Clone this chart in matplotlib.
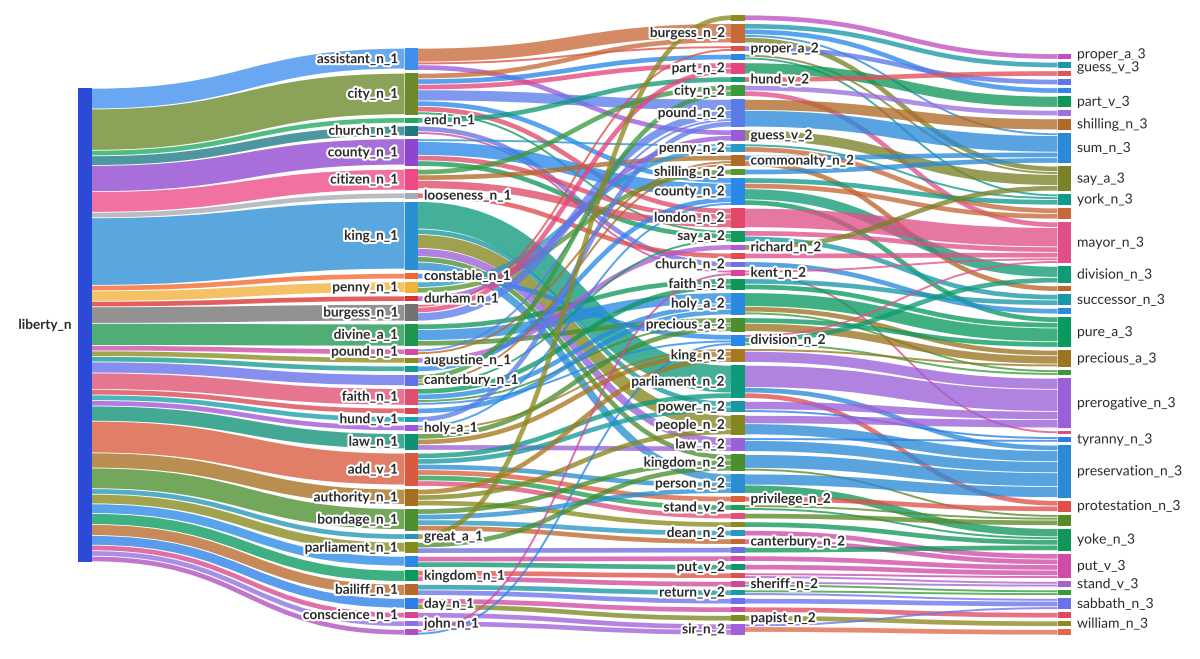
import matplotlib
matplotlib.use("Agg")
import matplotlib.pyplot as plt
from matplotlib.path import Path
from matplotlib.patches import PathPatch, Rectangle
import matplotlib.patheffects as pe

# ---------------- data ----------------
root = "liberty_n"

# level-1 nodes (top to bottom) and the flow liberty_n -> node
l1_nodes = ["assistant_n_1", "city_n_1", "end_n_1", "church_n_1", "county_n_1",
            "citizen_n_1", "looseness_n_1", "king_n_1", "constable_n_1", "penny_n_1",
            "durham_n_1", "burgess_n_1", "divine_a_1", "pound_n_1", "augustine_n_1",
            "u1_16", "canterbury_n_1", "faith_n_1", "u1_19", "hund_v_1", "holy_a_1",
            "law_n_1", "add_v_1", "authority_n_1", "bondage_n_1", "great_a_1",
            "parliament_n_1", "u1_28", "kingdom_n_1", "bailiff_n_1", "day_n_1",
            "conscience_n_1", "john_n_1", "u1_34"]
l1_values = [3.75, 7.5, 1, 1.75, 4.75, 3.75, 1, 12.25, 1, 1.9, 1, 3, 4, 1, 1, 1, 2, 3,
             1, 1, 1, 2.75, 5.75, 2.75, 3.75, 1, 1.75, 1.75, 2, 2, 1.75, 1, 1, 1]

l2_nodes = ["u2_1", "burgess_n_2", "proper_a_2", "u2_4", "part_n_2", "hund_v_2",
            "city_n_2", "pound_n_2", "guess_v_2", "penny_n_2", "commonalty_n_2",
            "shilling_n_2", "county_n_2", "london_n_2", "say_a_2", "richard_n_2",
            "u2_17", "church_n_2", "kent_n_2", "faith_n_2", "holy_a_2", "precious_a_2",
            "division_n_2", "king_n_2", "parliament_n_2", "power_n_2", "people_n_2",
            "law_n_2", "kingdom_n_2", "person_n_2", "privilege_n_2", "stand_v_2",
            "u2_33", "u2_34", "dean_n_2", "canterbury_n_2", "u2_37", "u2_38",
            "put_v_2", "u2_40", "sheriff_n_2", "return_v_2", "u2_43", "u2_44",
            "papist_n_2", "sir_n_2"]

l3_nodes = ["proper_a_3", "guess_v_3", "u3_3", "u3_4", "u3_5", "part_v_3", "u3_7",
            "shilling_n_3", "sum_n_3", "say_a_3", "york_n_3", "u3_12", "mayor_n_3",
            "division_n_3", "u3_15", "successor_n_3", "u3_17", "pure_a_3",
            "precious_a_3", "u3_20", "prerogative_n_3", "u3_22", "tyranny_n_3",
            "preservation_n_3", "protestation_n_3", "u3_26", "yoke_n_3", "put_v_3",
            "stand_v_3", "u3_30", "sabbath_n_3", "u3_32", "william_n_3", "u3_34"]

# level 1 -> level 2 flows
l12_links = [
    ("assistant_n_1", "burgess_n_2", 2.5), ("assistant_n_1", "proper_a_2", 0.5),
    ("assistant_n_1", "guess_v_2", 1),
    ("city_n_1", "burgess_n_2", 1), ("city_n_1", "u2_4", 1), ("city_n_1", "part_n_2", 1),
    ("city_n_1", "pound_n_2", 2), ("city_n_1", "county_n_2", 1),
    ("city_n_1", "london_n_2", 1), ("city_n_1", "say_a_2", 0.5),
    ("end_n_1", "hund_v_2", 1),
    ("church_n_1", "church_n_2", 1), ("church_n_1", "kent_n_2", 0.5),
    ("county_n_1", "penny_n_2", 0.5), ("county_n_1", "county_n_2", 2.5),
    ("county_n_1", "london_n_2", 1), ("county_n_1", "say_a_2", 1),
    ("citizen_n_1", "city_n_2", 1), ("citizen_n_1", "commonalty_n_2", 1),
    ("citizen_n_1", "london_n_2", 1.5),
    ("looseness_n_1", "u2_17", 1),
    ("king_n_1", "parliament_n_2", 5), ("king_n_1", "power_n_2", 1),
    ("king_n_1", "people_n_2", 2.5), ("king_n_1", "law_n_2", 1.5),
    ("king_n_1", "kingdom_n_2", 1), ("king_n_1", "person_n_2", 1.5),
    ("constable_n_1", "division_n_2", 1),
    ("penny_n_1", "penny_n_2", 1), ("penny_n_1", "shilling_n_2", 1),
    ("durham_n_1", "guess_v_2", 1),
    ("burgess_n_1", "proper_a_2", 0.5), ("burgess_n_1", "part_n_2", 1),
    ("burgess_n_1", "pound_n_2", 1.5),
    ("divine_a_1", "holy_a_2", 2), ("divine_a_1", "faith_n_2", 1),
    ("divine_a_1", "precious_a_2", 1),
    ("pound_n_1", "pound_n_2", 0.5), ("pound_n_1", "commonalty_n_2", 0.5),
    ("augustine_n_1", "richard_n_2", 1),
    ("u1_16", "county_n_2", 1),
    ("canterbury_n_1", "city_n_2", 1), ("canterbury_n_1", "commonalty_n_2", 0.5),
    ("canterbury_n_1", "say_a_2", 0.5),
    ("faith_n_1", "faith_n_2", 1), ("faith_n_1", "holy_a_2", 1),
    ("faith_n_1", "precious_a_2", 0.5), ("faith_n_1", "division_n_2", 0.5),
    ("u1_19", "holy_a_2", 1),
    ("hund_v_1", "pound_n_2", 1),
    ("holy_a_1", "county_n_2", 0.5), ("holy_a_1", "king_n_2", 0.5),
    ("law_n_1", "precious_a_2", 1), ("law_n_1", "king_n_2", 1), ("law_n_1", "law_n_2", 1),
    ("add_v_1", "parliament_n_2", 1), ("add_v_1", "power_n_2", 1),
    ("add_v_1", "person_n_2", 1), ("add_v_1", "privilege_n_2", 1),
    ("add_v_1", "stand_v_2", 1), ("add_v_1", "u2_33", 1),
    ("authority_n_1", "king_n_2", 1), ("authority_n_1", "people_n_2", 1),
    ("authority_n_1", "u2_34", 1),
    ("bondage_n_1", "kingdom_n_2", 1), ("bondage_n_1", "person_n_2", 1),
    ("bondage_n_1", "dean_n_2", 1), ("bondage_n_1", "canterbury_n_2", 1),
    ("great_a_1", "u2_1", 1),
    ("parliament_n_1", "kingdom_n_2", 1), ("parliament_n_1", "u2_37", 1),
    ("u1_28", "u2_38", 1), ("u1_28", "put_v_2", 1),
    ("kingdom_n_1", "u2_40", 1), ("kingdom_n_1", "sheriff_n_2", 1),
    ("bailiff_n_1", "return_v_2", 1), ("bailiff_n_1", "u2_43", 1),
    ("day_n_1", "u2_44", 1), ("day_n_1", "papist_n_2", 1),
    ("conscience_n_1", "sir_n_2", 1),
    ("john_n_1", "sir_n_2", 1),
    ("u1_34", "kent_n_2", 0.5), ("u1_34", "division_n_2", 0.5),
]

# level 2 -> level 3 flows
l23_links = [
    ("u2_1", "proper_a_3", 1),
    ("burgess_n_2", "guess_v_3", 1), ("burgess_n_2", "u3_5", 1),
    ("burgess_n_2", "sum_n_3", 0.5), ("burgess_n_2", "say_a_3", 1),
    ("proper_a_2", "u3_4", 1),
    ("u2_4", "say_a_3", 0.5), ("u2_4", "york_n_3", 0.5),
    ("part_n_2", "part_v_3", 2),
    ("hund_v_2", "u3_3", 1),
    ("city_n_2", "u3_7", 1), ("city_n_2", "mayor_n_3", 1),
    ("pound_n_2", "shilling_n_3", 2), ("pound_n_2", "sum_n_3", 3),
    ("guess_v_2", "say_a_3", 2),
    ("penny_n_2", "york_n_3", 0.5), ("penny_n_2", "u3_12", 1),
    ("commonalty_n_2", "sum_n_3", 1), ("commonalty_n_2", "u3_15", 1),
    ("shilling_n_2", "sum_n_3", 1),
    ("county_n_2", "u3_12", 1), ("county_n_2", "york_n_3", 1),
    ("county_n_2", "division_n_3", 2), ("county_n_2", "pure_a_3", 1),
    ("london_n_2", "mayor_n_3", 3.5),
    ("say_a_2", "mayor_n_3", 1), ("say_a_2", "successor_n_3", 1),
    ("richard_n_2", "say_a_3", 1),
    ("u2_17", "mayor_n_3", 1),
    ("church_n_2", "u3_17", 1),
    ("kent_n_2", "mayor_n_3", 0.5), ("kent_n_2", "u3_22", 0.5),
    ("faith_n_2", "successor_n_3", 1), ("faith_n_2", "pure_a_3", 1),
    ("holy_a_2", "pure_a_3", 2.5), ("holy_a_2", "precious_a_3", 1),
    ("holy_a_2", "u3_20", 0.5),
    ("precious_a_2", "pure_a_3", 1), ("precious_a_2", "precious_a_3", 1.5),
    ("division_n_2", "mayor_n_3", 0.5), ("division_n_2", "division_n_3", 1),
    ("division_n_2", "u3_20", 0.5),
    ("king_n_2", "prerogative_n_3", 2), ("king_n_2", "precious_a_3", 0.5),
    ("parliament_n_2", "prerogative_n_3", 4), ("parliament_n_2", "preservation_n_3", 1),
    ("parliament_n_2", "protestation_n_3", 1),
    ("power_n_2", "prerogative_n_3", 1.5), ("power_n_2", "tyranny_n_3", 0.5),
    ("people_n_2", "prerogative_n_3", 1.5), ("people_n_2", "preservation_n_3", 2),
    ("law_n_2", "preservation_n_3", 2), ("law_n_2", "tyranny_n_3", 0.5),
    ("kingdom_n_2", "preservation_n_3", 2.5), ("kingdom_n_2", "u3_26", 0.5),
    ("person_n_2", "preservation_n_3", 2), ("person_n_2", "yoke_n_3", 1.5),
    ("privilege_n_2", "protestation_n_3", 1),
    ("stand_v_2", "u3_26", 0.5), ("stand_v_2", "yoke_n_3", 0.5),
    ("u2_33", "u3_26", 1),
    ("u2_34", "yoke_n_3", 1),
    ("dean_n_2", "put_v_3", 1),
    ("canterbury_n_2", "put_v_3", 1),
    ("u2_37", "yoke_n_3", 1),
    ("u2_38", "put_v_3", 1),
    ("put_v_2", "put_v_3", 1),
    ("u2_40", "put_v_3", 0.5), ("u2_40", "stand_v_3", 0.5),
    ("sheriff_n_2", "stand_v_3", 0.5), ("sheriff_n_2", "u3_30", 0.5),
    ("return_v_2", "u3_30", 0.5), ("return_v_2", "sabbath_n_3", 0.5),
    ("u2_43", "sabbath_n_3", 1),
    ("u2_44", "u3_32", 1),
    ("papist_n_2", "william_n_3", 1),
    ("sir_n_2", "sabbath_n_3", 0.5), ("sir_n_2", "u3_34", 1),
]

# ---------------- styles ----------------
node_colors = {
    "liberty_n": "#2b4bd6",
    "assistant_n_1": "#3f8fef", "city_n_1": "#6b8a2a", "end_n_1": "#1faa5e",
    "church_n_1": "#1d7a85", "county_n_1": "#9045d0", "citizen_n_1": "#ee4a86",
    "looseness_n_1": "#a8aab0", "king_n_1": "#2b8fd6", "constable_n_1": "#f5672a",
    "penny_n_1": "#f2b13a", "durham_n_1": "#d9322f", "burgess_n_1": "#737373",
    "divine_a_1": "#1f9650", "pound_n_1": "#d04aa8", "augustine_n_1": "#8b8c1e",
    "u1_16": "#149a8e", "canterbury_n_1": "#6470e8", "faith_n_1": "#e04e70",
    "u1_19": "#d84654", "hund_v_1": "#1aa0a8", "holy_a_1": "#a055d8",
    "law_n_1": "#0f9176", "add_v_1": "#d95a3e", "authority_n_1": "#a66f1f",
    "bondage_n_1": "#4b8f2e", "great_a_1": "#2496b8", "parliament_n_1": "#878a1c",
    "u1_28": "#2a8ae6", "kingdom_n_1": "#089a5e", "bailiff_n_1": "#b8692a",
    "day_n_1": "#2b7fe6", "conscience_n_1": "#d8458f", "john_n_1": "#9070e0",
    "u1_34": "#b050c0",
    "u2_1": "#8a8a20", "burgess_n_2": "#c8693a", "proper_a_2": "#e0504a",
    "u2_4": "#2a86e8", "part_n_2": "#e4457e", "hund_v_2": "#109a76",
    "city_n_2": "#3c9a3c", "pound_n_2": "#5a7ce8", "guess_v_2": "#9a5ad8",
    "penny_n_2": "#2a98c8", "commonalty_n_2": "#b06a28", "shilling_n_2": "#5a962a",
    "county_n_2": "#2a88e8", "london_n_2": "#e04a68", "say_a_2": "#129a5e",
    "richard_n_2": "#b05ad0", "u2_17": "#e04a50", "church_n_2": "#7070e0",
    "kent_n_2": "#d8469c", "faith_n_2": "#10965a", "holy_a_2": "#2a8ae0",
    "precious_a_2": "#4a8e30", "division_n_2": "#2a86ea", "king_n_2": "#a8781e",
    "parliament_n_2": "#0f9a7e", "power_n_2": "#1a98a0", "people_n_2": "#868620",
    "law_n_2": "#9a60d8", "kingdom_n_2": "#4a8e2e", "person_n_2": "#2a8ed0",
    "privilege_n_2": "#d8603e", "stand_v_2": "#20a050", "u2_33": "#e0507a",
    "u2_34": "#8a8a20", "dean_n_2": "#2898c0", "canterbury_n_2": "#c0682e",
    "u2_37": "#6a70e0", "u2_38": "#d04aa0", "put_v_2": "#12966e", "u2_40": "#e05048",
    "sheriff_n_2": "#d04a98", "return_v_2": "#1a98a8", "u2_43": "#6a72e8",
    "u2_44": "#d04aa0", "papist_n_2": "#7a8a20", "sir_n_2": "#a060d8",
    "proper_a_3": "#c050c0", "guess_v_3": "#1a98a8", "u3_3": "#e0505a",
    "u3_4": "#5a78e8", "u3_5": "#2a88e8", "part_v_3": "#10965a", "u3_7": "#9a70e0",
    "shilling_n_3": "#b06a28", "sum_n_3": "#2a8ad8", "say_a_3": "#7a8228",
    "york_n_3": "#109a8a", "u3_12": "#c8683a", "mayor_n_3": "#e05088",
    "division_n_3": "#109a76", "u3_15": "#b8682a", "successor_n_3": "#1a98a8",
    "u3_17": "#2a8ad8", "pure_a_3": "#0a9a60", "precious_a_3": "#9a7420",
    "u3_20": "#3a9a3a", "prerogative_n_3": "#9a60d8", "u3_22": "#e04a88",
    "tyranny_n_3": "#2a7ee8", "preservation_n_3": "#2a8ad6",
    "protestation_n_3": "#e0504a", "u3_26": "#5a8a28", "yoke_n_3": "#10965a",
    "put_v_3": "#d04aa8", "stand_v_3": "#a860d0", "u3_30": "#3a9a3a",
    "sabbath_n_3": "#6a72e8", "u3_32": "#e04a60", "william_n_3": "#8a8a20",
    "u3_34": "#e06a4a",
}
right_labels = {"end_n_1", "looseness_n_1", "constable_n_1", "durham_n_1",
                "augustine_n_1", "canterbury_n_1", "holy_a_1", "great_a_1",
                "kingdom_n_1", "day_n_1", "john_n_1",
                "proper_a_2", "hund_v_2", "guess_v_2", "commonalty_n_2",
                "richard_n_2", "kent_n_2", "division_n_2", "privilege_n_2",
                "canterbury_n_2", "sheriff_n_2", "papist_n_2"}

W, H, DPI = 1200, 659, 100
X0, X1, NW = 78, 1071, 13.5
Y0, Y1, PY = 15, 635, 3.0
FONT = "Lato"
LABEL_GAP = 13

# ---------------- layout ----------------
columns = [[root], l1_nodes, l2_nodes, l3_nodes]
layer = {n: i for i, c in enumerate(columns) for n in c}
links = [dict(s=root, t=n, v=v) for n, v in zip(l1_nodes, l1_values)]
links += [dict(s=s, t=t, v=v) for s, t, v in l12_links + l23_links]
src = {n: [] for n in layer}
tgt = {n: [] for n in layer}
for i, l in enumerate(links):
    l["i"] = i
    src[l["s"]].append(l)
    tgt[l["t"]].append(l)
val = {n: max(sum(l["v"] for l in src[n]), sum(l["v"] for l in tgt[n])) for n in layer}
y0, y1 = {}, {}

ky = min((Y1 - Y0 - (len(c) - 1) * PY) / sum(val[n] for n in c) for c in columns)
for l in links:
    l["w"] = l["v"] * ky

# stack each column: the single root is centred, the others packed to the bottom
for ci, c in enumerate(columns):
    total = sum(val[n] for n in c) * ky + (len(c) - 1) * PY
    y = (Y0 + Y1 - total) / 2 if ci == 0 else Y1 - total
    for n in c:
        y0[n] = y
        y1[n] = y + val[n] * ky
        y = y1[n] + PY

for n in layer:
    src[n].sort(key=lambda l: (y0[l["t"]], l["i"]))
    tgt[n].sort(key=lambda l: (y0[l["s"]], l["i"]))
    y = y0[n]
    for l in src[n]:
        l["y0"] = y + l["w"] / 2
        y += l["w"]
for n in layer:
    y = y0[n]
    for l in tgt[n]:
        l["y1"] = y + l["w"] / 2
        y += l["w"]

colx = {i: X0 + i * (X1 - X0 - NW) / (len(columns) - 1) for i in range(len(columns))}

# ---------------- drawing ----------------
fig = plt.figure(figsize=(W / DPI, H / DPI), dpi=DPI)
ax = fig.add_axes([0, 0, 1, 1])
ax.set_xlim(0, W)
ax.set_ylim(H, 0)
ax.axis("off")

px2pt = 72 / DPI
for l in links:
    xa = colx[layer[l["s"]]] + NW
    xb = colx[layer[l["t"]]]
    xm = (xa + xb) / 2
    path = Path([(xa, l["y0"]), (xm, l["y0"]), (xm, l["y1"]), (xb, l["y1"])],
                [Path.MOVETO, Path.CURVE4, Path.CURVE4, Path.CURVE4])
    ax.add_patch(PathPatch(path, facecolor="none", edgecolor=node_colors[l["t"]],
                           lw=max(l["w"] - 0.8, 0.5) * px2pt, alpha=0.78,
                           capstyle="butt"))

for n in layer:
    x = colx[layer[n]]
    ax.add_patch(Rectangle((x, y0[n]), NW, y1[n] - y0[n],
                           facecolor=node_colors[n], edgecolor="none"))

# label positions: node centres, spread apart where they would collide
groups = {}
for n in layer:
    if n.startswith("u"):
        continue
    last = layer[n] == len(columns) - 1
    side = "r" if (last or n in right_labels) else "l"
    groups.setdefault((layer[n], side), []).append(n)
label_y = {}
for key, names in groups.items():
    names.sort(key=lambda n: y0[n])
    p = [(y0[n] + y1[n]) / 2 for n in names]
    for _ in range(200):
        for i in range(1, len(p)):
            d = LABEL_GAP - (p[i] - p[i - 1])
            if d > 0:
                p[i - 1] -= d / 2
                p[i] += d / 2
    for n, yy in zip(names, p):
        label_y[n] = yy

halo = [pe.withStroke(linewidth=3, foreground="white")]
for (ci, side), names in groups.items():
    last = ci == len(columns) - 1
    for n in names:
        x = colx[ci]
        kw = dict(va="center", family=FONT, color="#2b2b2b",
                  fontsize=10 if last else 9.8,
                  fontweight="normal" if last else "bold",
                  path_effects=halo)
        if side == "r":
            ax.text(x + NW + 6, label_y[n], n, ha="left", **kw)
        else:
            ax.text(x - 6, label_y[n], n, ha="right", **kw)

fig.savefig("out.png", dpi=DPI)
